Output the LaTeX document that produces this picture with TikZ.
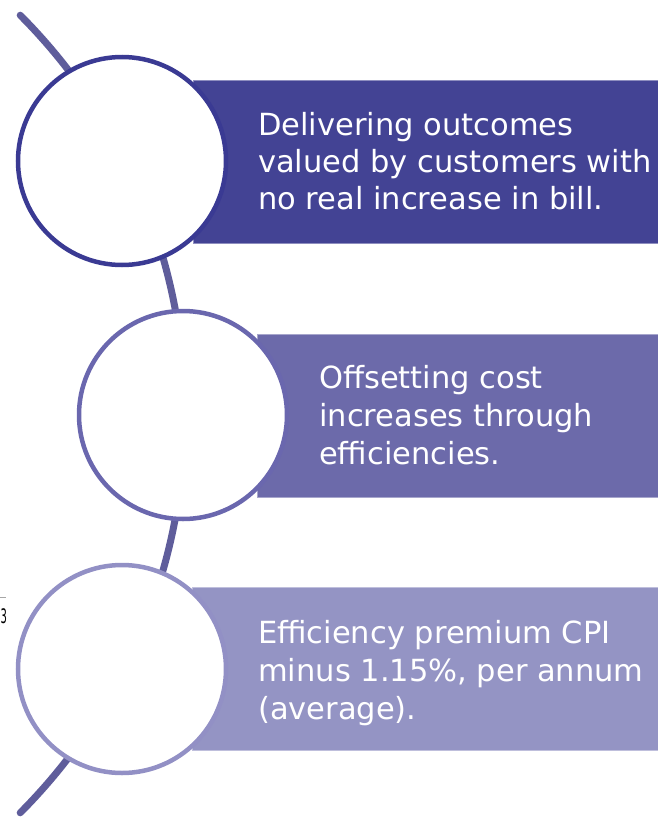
\documentclass[tikz,border=0pt]{standalone}
\usepackage{fontspec}
\setmainfont{DejaVu Sans}
\definecolor{arcc}{HTML}{5F5D9B}
\definecolor{boxa}{HTML}{434394}
\definecolor{boxb}{HTML}{6C6AAA}
\definecolor{boxc}{HTML}{9494C4}
\definecolor{ringa}{HTML}{3A3A93}
\definecolor{ringb}{HTML}{6A67AE}
\definecolor{ringc}{HTML}{9290C5}
\tikzset{
  band/.style={draw=#1!60!white, line width=0.8pt, fill=#1},
  ring/.style={circle, draw=#1, line width=4.5pt, fill=white, minimum size=208pt, inner sep=0pt},
  txt/.style={anchor=base west, inner sep=0pt, text=white, font=\fontsize{30.5}{37.5}\selectfont},
}
\begin{document}
\begin{tikzpicture}[x=1pt,y=1pt]
\useasboundingbox (0,0) rectangle (658,-819);
% background arc
\coordinate (arcc) at (-380,-414);
\draw[arcc, line width=7pt, line cap=round] (arcc) ++(44.9:565) arc[start angle=44.9, end angle=-44.9, radius=565];
% bands
\path[band=boxa] (193,-80) rectangle (660,-243);
\path[band=boxb] (257,-334) rectangle (660,-497);
\path[band=boxc] (192,-587) rectangle (660,-750);
% circles
\node[ring=ringa] (c1) at (122,-161) {};
\node[ring=ringb] (c2) at (183,-415) {};
\node[ring=ringc] (c3) at (122,-669) {};
% texts
\node[txt] (t1a) at (258,-135) {Delivering outcomes};
\node[txt] (t1b) at (258,-172) {valued by customers with};
\node[txt] (t1c) at (258,-209) {no real increase in bill.};
\node[txt] (t2a) at (319,-388) {Offsetting cost};
\node[txt] (t2b) at (319,-426) {increases through};
\node[txt] (t2c) at (319,-464) {efficiencies.};
\node[txt] (t3a) at (258,-643) {Efficiency premium CPI};
\node[txt] (t3b) at (258,-681) {minus 1.15\%, per annum};
\node[txt] (t3c) at (258,-719) {(average).};
% stray fragment at left edge
\draw[gray!70, line width=0.8pt] (0,-597) -- (6,-597);
\node[anchor=base west, inner sep=0pt, xscale=0.5, font=\fontsize{20}{20}\selectfont] (frag) at (0.5,-623) {3};
\end{tikzpicture}
\end{document}
